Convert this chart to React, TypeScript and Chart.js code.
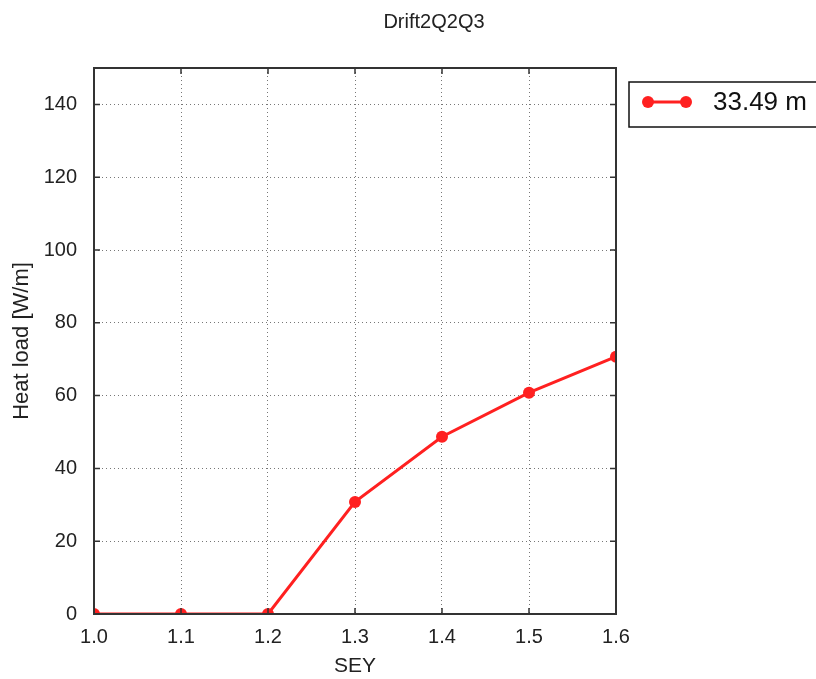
import React, { useEffect, useRef } from 'react';
import { Chart, registerables } from 'chart.js';

Chart.register(...registerables);

const chartTitle = 'Drift2Q2Q3';
const xTitle = 'SEY';
const yTitle = 'Heat load [W/m]';
const seriesLabel = '33.49 m';
const sey = [1.0, 1.1, 1.2, 1.3, 1.4, 1.5, 1.6];
const heatLoad = [0, 0, 0, 30.8, 48.7, 60.8, 70.7];
const xTickValues = [1.0, 1.1, 1.2, 1.3, 1.4, 1.5, 1.6];
const yTickValues = [0, 20, 40, 60, 80, 100, 120, 140];

const FONT = '"Liberation Sans", Arial, Helvetica, sans-serif';
const RED = 'rgb(255,32,32)';

const framePlugin = {
  id: 'framePlugin',
  afterDraw(chart: any) {
    const { ctx, chartArea } = chart;
    const { left, right, top, bottom } = chartArea;
    const xs = chart.scales.x;
    const ys = chart.scales.y;
    ctx.save();
    // inward ticks
    ctx.strokeStyle = '#333';
    ctx.lineWidth = 1.5;
    const tl = 6;
    ctx.beginPath();
    yTickValues.forEach((v) => {
      const y = ys.getPixelForValue(v);
      ctx.moveTo(left, y); ctx.lineTo(left + tl, y);
      ctx.moveTo(right, y); ctx.lineTo(right - tl, y);
    });
    xTickValues.forEach((v) => {
      const x = xs.getPixelForValue(v);
      ctx.moveTo(x, bottom); ctx.lineTo(x, bottom - tl);
      ctx.moveTo(x, top); ctx.lineTo(x, top + tl);
    });
    ctx.stroke();
    // frame
    ctx.strokeStyle = '#333';
    ctx.lineWidth = 2;
    ctx.strokeRect(left, top, right - left, bottom - top);

    // title
    ctx.fillStyle = '#222';
    ctx.font = `20px ${FONT}`;
    ctx.textAlign = 'center';
    ctx.textBaseline = 'middle';
    ctx.fillText(chartTitle, 434, 22);

    // legend
    const lx = right + 13;
    const ly = top + 14;
    ctx.strokeStyle = '#111';
    ctx.lineWidth = 1.5;
    ctx.strokeRect(lx, ly, 300, 45);
    const cy = ly + 20;
    ctx.strokeStyle = RED;
    ctx.lineWidth = 3;
    ctx.beginPath();
    ctx.moveTo(lx + 19, cy); ctx.lineTo(lx + 57, cy);
    ctx.stroke();
    ctx.fillStyle = RED;
    [lx + 19, lx + 57].forEach((px) => {
      ctx.beginPath();
      ctx.arc(px, cy, 6, 0, Math.PI * 2);
      ctx.fill();
    });
    ctx.fillStyle = '#111';
    ctx.font = `26px ${FONT}`;
    ctx.textAlign = 'left';
    ctx.fillText(seriesLabel, lx + 84, cy + 1);
    ctx.restore();
  },
};

export default function App() {
  const ref = useRef<HTMLCanvasElement>(null);
  useEffect(() => {
    if (!ref.current) return;
    const chart = new Chart(ref.current, {
      type: 'line',
      data: {
        datasets: [
          {
            label: seriesLabel,
            data: sey.map((x, i) => ({ x, y: heatLoad[i] })),
            borderColor: RED,
            backgroundColor: RED,
            borderWidth: 3,
            pointRadius: 6,
            pointBackgroundColor: RED,
            pointBorderColor: RED,
            pointBorderWidth: 0,
            clip: 0,
          } as any,
        ],
      },
      options: {
        animation: false,
        responsive: true,
        maintainAspectRatio: false,
        layout: { padding: { left: 0, top: 68, right: 200, bottom: 0 } },
        plugins: {
          legend: { display: false },
          title: { display: false },
          tooltip: { enabled: false },
        },
        scales: {
          x: {
            type: 'linear',
            min: 1.0,
            max: 1.6,
            afterBuildTicks: (s: any) => {
              s.ticks = xTickValues.map((v) => ({ value: v }));
            },
            afterFit: (s: any) => {
              s.height = 65;
            },
            ticks: {
              callback: (v: any) => Number(v).toFixed(1),
              color: '#222',
              font: { family: FONT, size: 20 },
              padding: 11,
              maxRotation: 0,
            },
            grid: {
              color: '#777',
              lineWidth: 1,
              drawTicks: false,
            },
            border: { display: false, dash: [1, 3] },
            title: {
              display: true,
              text: xTitle,
              color: '#222',
              font: { family: FONT, size: 21 },
              padding: { top: 0, bottom: 0 },
            },
          },
          y: {
            type: 'linear',
            min: 0,
            max: 150,
            afterBuildTicks: (s: any) => {
              s.ticks = yTickValues.map((v) => ({ value: v }));
            },
            afterFit: (s: any) => {
              s.width = 94;
            },
            ticks: {
              color: '#222',
              font: { family: FONT, size: 20 },
              padding: 17,
            },
            grid: {
              color: '#777',
              lineWidth: 1,
              drawTicks: false,
            },
            border: { display: false, dash: [1, 3] },
            title: {
              display: true,
              text: yTitle,
              color: '#222',
              font: { family: FONT, size: 22 },
              padding: { top: 9, bottom: 9 },
            },
          },
        },
      } as any,
      plugins: [framePlugin],
    });
    return () => chart.destroy();
  }, []);
  return (
    <div style={{ position: 'absolute', left: 0, top: 0, width: 816, height: 679, background: '#fff' }}>
      <canvas ref={ref} />
    </div>
  );
}
